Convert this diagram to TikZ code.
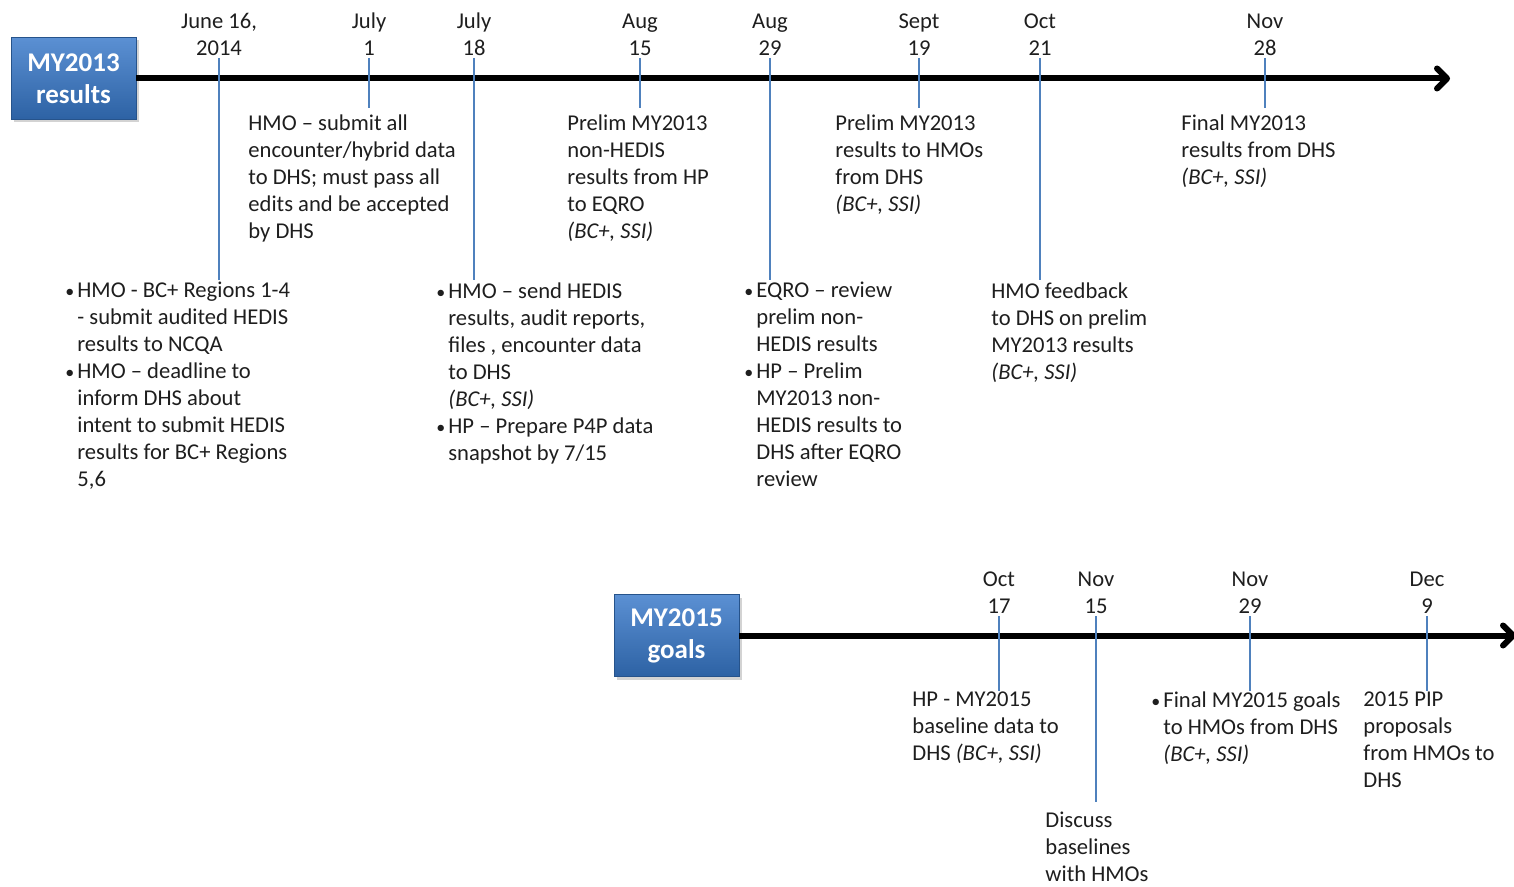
\documentclass[tikz,border=0pt]{standalone}
\usepackage{fontspec}
\setmainfont{Carlito}
\usetikzlibrary{arrows.meta,shadows}
\definecolor{tlblue}{HTML}{4F81BD}
\definecolor{boxtop}{HTML}{5B90D3}
\definecolor{boxbot}{HTML}{2D62A4}
\definecolor{txt}{HTML}{1E1E1E}
\newcommand\bul{\llap{{\fontsize{9}{9}\selectfont\textbullet}\hspace{1.5pt}}}

\begin{document}
\begin{tikzpicture}[x=0.5pt,y=-0.5pt,
  every node/.style={font=\fontsize{11.3}{13.5}\selectfont,text=txt,inner sep=0pt},
  date/.style={align=center,anchor=south},
  blk/.style={align=left,anchor=north west},
  tick/.style={draw=tlblue,line width=1pt},
  axis/.style={line width=3pt,-{Straight Barb[length=5pt,width=10pt,round]}},
  yearbox/.style={draw=boxbot!85!black,top color=boxtop,bottom color=boxbot,
    minimum width=62.5pt,minimum height=41pt,align=center,text=white,
    font=\fontsize{13.5}{16}\selectfont\bfseries,
    drop shadow={opacity=0.35,shadow xshift=1.5pt,shadow yshift=-1.5pt}}]
  \useasboundingbox (0,0) rectangle (1514,887);
  % year boxes and the two time axes
  \node[yearbox] (r13) at (73.5,78.5) {MY2013\\results};
  \node[yearbox] (g15) at (676.5,635.5) {MY2015\\goals};
  \coordinate (e13) at (1450,78.5);
  \coordinate (e15) at (1516,635.5);
  \draw[axis] (r13.east) -- (e13);
  \draw[axis] (g15.east) -- (e15);
  % dates on the upper axis
  \foreach \n/\x/\a/\b in {d1/219/{June 16,}/2014, d2/369/July/1, d3/474/July/18,
      d4/640/Aug/15, d5/770/Aug/29, d6/919/Sept/19, d7/1040/Oct/21, d8/1265/Nov/28}
    \node[date] (\n) at (\x,56) {\a\\\b};
  % dates on the lower axis
  \foreach \n/\x/\a/\b in {k1/999/Oct/17, k2/1096/Nov/15, k3/1250/Nov/29, k4/1427/Dec/9}
    \node[date] (\n) at (\x,614) {\a\\\b};
  % texts, upper axis
  \node[blk] (t1) at (77,282) {\bul HMO - BC+ Regions 1-4\\- submit audited HEDIS\\results to NCQA\\
    \bul HMO -- deadline to\\inform DHS about\\intent to submit HEDIS\\results for BC+ Regions\\5,6};
  \node[blk] (t2) at (248,114) {HMO -- submit all\\encounter/hybrid data\\to DHS; must pass all\\
    edits and be accepted\\by DHS};
  \node[blk] (t3) at (448,282) {\bul HMO -- send HEDIS\\results, audit reports,\\files , encounter data\\
    to DHS\\\textit{(BC+, SSI)}\\\bul HP -- Prepare P4P data\\snapshot by 7/15};
  \node[blk] (t4) at (567,114) {Prelim MY2013\\non-HEDIS\\results from HP\\to EQRO\\\textit{(BC+, SSI)}};
  \node[blk] (t5) at (756,282) {\bul EQRO -- review\\prelim non-\\HEDIS results\\\bul HP -- Prelim\\
    MY2013 non-\\HEDIS results to\\DHS after EQRO\\review};
  \node[blk] (t6) at (835,114) {Prelim MY2013\\results to HMOs\\from DHS\\\textit{(BC+, SSI)}};
  \node[blk] (t7) at (991,282) {HMO feedback\\to DHS on prelim\\MY2013 results\\\textit{(BC+, SSI)}};
  \node[blk] (t8) at (1181,114) {Final MY2013\\results from DHS\\\textit{(BC+, SSI)}};
  % texts, lower axis
  \node[blk] (u1) at (912,691) {HP - MY2015\\baseline data to\\DHS \textit{(BC+, SSI)}};
  \node[blk] (u2) at (1045,812) {Discuss\\baselines\\with HMOs};
  \node[blk] (u3) at (1163,691) {\bul Final MY2015 goals\\to HMOs from DHS\\\textit{(BC+, SSI)}};
  \node[blk] (u4) at (1363,691) {2015 PIP\\proposals\\from HMOs to\\DHS};
  % ticks
  \foreach \d/\t/\s in {d1/t1/1, d2/t2/3, d3/t3/1, d4/t4/3, d5/t5/1, d6/t6/3, d7/t7/1, d8/t8/3,
      k1/u1/0, k2/u2/5, k3/u3/0, k4/u4/0}
    \draw[tick,shorten <=1pt,shorten >=\s pt] (\d.south) -- (\d.south |- \t.north);
\end{tikzpicture}
\end{document}
